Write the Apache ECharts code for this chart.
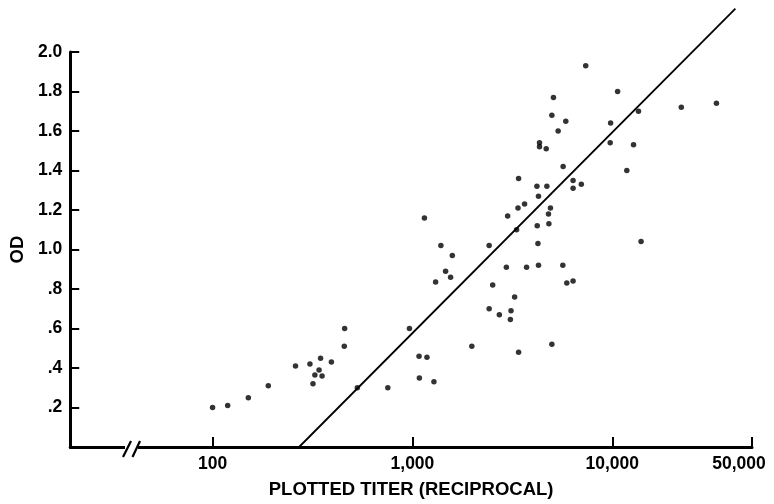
<!DOCTYPE html>
<html><head><meta charset="utf-8">
<script src="https://cdn.jsdelivr.net/npm/echarts@6/dist/echarts.min.js"></script>
<style>html,body{margin:0;padding:0;background:#fff}#c{width:774px;height:504px}</style>
</head><body><div id="c"></div>
<script>
// Plotted titer (reciprocal) for each serum sample
const titer = [
  100, 119, 151, 190, 260, 307, 347, 341, 325, 353, 318, 393, 458, 456, 530, 753,
  1083, 1281, 1079, 1182, 1982, 3397, 4985, 966, 2420, 2722, 3090, 3113, 3245, 2521,
  1306, 1552, 1465, 1583, 1388, 1148, 2420, 2951, 3724, 4273, 5655, 5920, 6364, 4245,
  4210, 4816, 4794, 4904, 3320, 2995, 3375, 3639, 4273, 4196, 4706, 3397, 5675, 6364,
  6364, 6998, 7362, 5076, 10630, 4985, 5851, 5358, 4323, 4323, 4670, 22140, 33190, 13520,
  9806, 9761, 12770, 11820, 13930
];
// Optical density for each sample
const od = [
  0.20, 0.21, 0.25, 0.31, 0.41, 0.42, 0.45, 0.39, 0.365, 0.36, 0.32, 0.43, 0.60, 0.51, 0.30, 0.30,
  0.35, 0.33, 0.46, 0.455, 0.51, 0.48, 0.52, 0.60, 0.70, 0.67, 0.645, 0.69, 0.76, 0.82,
  0.835, 0.86, 0.89, 0.97, 1.02, 1.16, 1.02, 0.91, 0.91, 0.92, 0.92, 0.83, 0.84, 1.03,
  1.12, 1.13, 1.18, 1.21, 1.10, 1.17, 1.21, 1.23, 1.27, 1.32, 1.32, 1.36, 1.42, 1.35,
  1.31, 1.33, 1.93, 1.77, 1.80, 1.68, 1.65, 1.60, 1.54, 1.52, 1.51, 1.72, 1.74, 1.70,
  1.64, 1.54, 1.53, 1.40, 1.04
];
// Fitted regression line end points
const fitTiter = [271, 41300];
const fitOD = [0, 2.22];
// Axis ticks and labels
const xTickValues = [100, 1000, 10000, 50000];
const xTickLabels = ['100', '1,000', '10,000', '50,000'];
const yTickLabels = ['', '.2', '.4', '.6', '.8', '1.0', '1.2', '1.4', '1.6', '1.8', '2.0'];
const xAxisTitle = 'PLOTTED TITER (RECIPROCAL)';
const yAxisTitle = 'OD';

const FONT = '"Liberation Sans", Arial, Helvetica, sans-serif';
const chart = echarts.init(document.getElementById('c'), null, {renderer: 'canvas'});

const points = titer.map((t, i) => [t, od[i]]);
const fitLine = fitTiter.map((t, i) => [t, fitOD[i]]);

chart.setOption({
  animation: false,
  backgroundColor: '#ffffff',
  grid: {left: 66, right: 22, top: 52, bottom: 56.5, containLabel: false},
  xAxis: {
    type: 'log',
    logBase: 10,
    min: 19.4,
    max: 50000,
    name: xAxisTitle,
    nameLocation: 'middle',
    nameGap: 33,
    nameTextStyle: {fontFamily: FONT, fontWeight: 'bold', fontSize: 18.5, color: '#000'},
    axisLine: {show: true, lineStyle: {color: '#000', width: 3}},
    axisTick: {show: true, inside: true, length: 10, lineStyle: {color: '#000', width: 2}, customValues: xTickValues},
    axisLabel: {
      show: true, margin: 8, color: '#000', fontFamily: FONT, fontWeight: 'bold', fontSize: 17.5,
      customValues: xTickValues,
      formatter: function (v) {
        const r = Math.round(v);
        const i = xTickValues.indexOf(r);
        const s = i >= 0 ? xTickLabels[i] : '';
        if (r === 50000) return '{r|' + s + '}';
        return s;
      },
      rich: {r: {fontFamily: FONT, fontWeight: 'bold', fontSize: 17.5, color: '#000', padding: [0, 26, 0, 0]}}
    },
    splitLine: {show: false},
    minorTick: {show: false}
  },
  yAxis: {
    type: 'value',
    min: 0,
    max: 2.0,
    interval: 0.2,
    name: yAxisTitle,
    nameLocation: 'middle',
    nameGap: 40,
    nameRotate: 90,
    nameTextStyle: {fontFamily: FONT, fontWeight: 'bold', fontSize: 18.5, color: '#000'},
    axisLine: {show: true, lineStyle: {color: '#000', width: 3}},
    axisTick: {show: true, inside: true, length: 9, lineStyle: {color: '#000', width: 2}},
    axisLabel: {
      show: true, margin: 8, color: '#000', fontFamily: FONT, fontWeight: 'bold', fontSize: 17.5,
      formatter: function (v) { return yTickLabels[Math.round(v / 0.2)] || ''; }
    },
    splitLine: {show: false}
  },
  series: [
    {
      type: 'scatter',
      data: points,
      symbol: 'circle',
      symbolSize: 5.5,
      itemStyle: {color: '#000'},
      z: 3
    },
    {
      type: 'line',
      data: fitLine,
      clip: false,
      showSymbol: false,
      symbol: 'none',
      lineStyle: {color: '#000', width: 1.8},
      z: 2
    }
  ],
  graphic: [
    {type: 'rect', shape: {x: 125, y: 443, width: 13, height: 9}, style: {fill: '#fff'}, z: 100},
    {type: 'line', shape: {x1: 123, y1: 457, x2: 131, y2: 441}, style: {stroke: '#000', lineWidth: 2.2}, z: 101},
    {type: 'line', shape: {x1: 132.5, y1: 457, x2: 140, y2: 441}, style: {stroke: '#000', lineWidth: 2.2}, z: 101}
  ]
});
</script>
</body></html>
